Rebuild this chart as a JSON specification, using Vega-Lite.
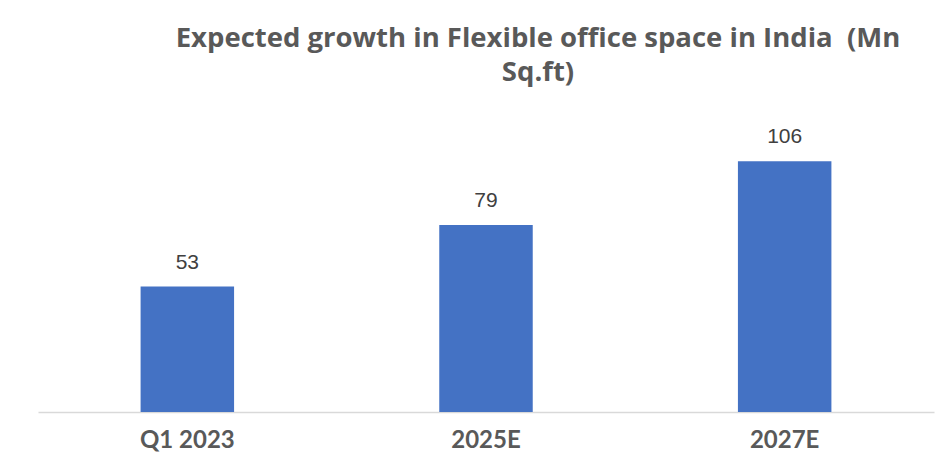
{
  "$schema": "https://vega.github.io/schema/vega-lite/v6.json",
  "width": 896,
  "height": 284,
  "autosize": "none",
  "padding": {"left": 38, "top": 128, "right": 17, "bottom": 56},
  "background": "white",
  "title": {
    "text": ["Expected growth in Flexible office space in India \u00a0(Mn", "Sq.ft)"],
    "font": "Open Sans",
    "fontSize": 27.5,
    "fontWeight": "bold",
    "color": "#595959",
    "anchor": "middle",
    "frame": "group",
    "dx": 52,
    "lineHeight": 34,
    "offset": 40
  },
  "data": {
    "values": [
      {"period": "Q1 2023", "value": 53},
      {"period": "2025E", "value": 79},
      {"period": "2027E", "value": 106}
    ]
  },
  "encoding": {
    "x": {
      "field": "period",
      "type": "nominal",
      "sort": null,
      "scale": {"paddingInner": 0.687, "paddingOuter": 0.3435},
      "axis": {
        "title": null,
        "labelAngle": 0,
        "ticks": false,
        "domainColor": "#d9d9d9",
        "domainWidth": 1.5,
        "labelFont": "Lato",
        "labelFontSize": 24,
        "labelFontWeight": "bold",
        "labelColor": "#595959",
        "labelPadding": 16
      }
    },
    "y": {
      "field": "value",
      "type": "quantitative",
      "scale": {"domain": [0, 120]},
      "axis": null
    }
  },
  "layer": [
    {"mark": {"type": "bar", "color": "#4472C4"}},
    {
      "mark": {"type": "text", "baseline": "alphabetic", "dy": -18, "font": "Liberation Sans", "fontSize": 21, "color": "#404040"},
      "encoding": {"text": {"field": "value", "type": "quantitative"}}
    }
  ],
  "config": {"view": {"stroke": null}}
}
